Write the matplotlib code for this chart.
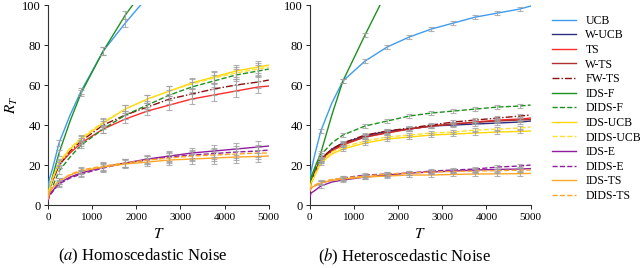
import matplotlib
matplotlib.use("Agg")
import matplotlib.pyplot as plt
from matplotlib.lines import Line2D

plt.rcParams['font.family'] = ['Liberation Serif', 'DejaVu Serif']
plt.rcParams['mathtext.fontset'] = 'stix'

# horizon grid at which curve values are read
T = [0, 30, 100, 250, 500, 750, 1250, 1750, 2250, 2750, 3250, 3750, 4250, 4750, 5000]
# error-bar positions (indices into T) and half-widths
err_idx = [3, 5, 6, 7, 8, 9, 10, 11, 12, 13]
err_a = [1.5, 1.5, 2.0, 2.0, 2.2, 2.5, 2.7, 2.8, 3.0, 3.0]
err_b = [1.0, 1.0, 1.0, 1.0, 1.0, 1.0, 1.0, 1.0, 1.0, 1.0]

names = ['UCB', 'W-UCB', 'TS', 'W-TS', 'FW-TS', 'IDS-F', 'DIDS-F', 'IDS-UCB',
         'DIDS-UCB', 'IDS-E', 'DIDS-E', 'IDS-TS', 'DIDS-TS']
colors = ['#3d9cf0', '#2e2e80', '#ff2a2a', '#b03030', '#8b1010', '#1e901e', '#1e901e',
          '#ffd700', '#ffe030', '#8e1e9e', '#8e1e9e', '#ffa726', '#ffa726']
styles = ['-', '-', '-', '-', (0, (5, 1.5, 1, 1.5)), '-', '--', '-', '--', '-', '--', '-', '--']

# (a) Homoscedastic noise
a_UCB = [8, 13, 18, 31, 45, 57, 77, 91, 104, 115, 125, 134, 143, 151, 155]
a_TS = [3, 8, 12, 20, 26, 31, 38, 43, 47, 50, 53, 55, 57, 59, 59.5]
a_FW_TS = [3, 8, 12, 20, 27, 32, 40, 45, 49, 53, 55.5, 58, 60, 61.5, 62.5]
a_IDS_F = [4, 8, 14, 26, 42, 56, 77, 95, 110, 123, 135, 146, 156, 166, 170]
a_DIDS_F = [3, 6, 9, 17, 24, 30, 38, 45, 50, 55, 59, 62, 65, 67, 68]
a_IDS_UCB = [3, 8, 13, 21, 28, 33, 41, 48, 53, 57, 61, 64, 67, 69, 70]
a_DIDS_UCB = [3, 8, 13, 21.5, 28.5, 33.5, 41.5, 48, 53, 57, 60.5, 63.5, 66, 68, 69]
a_IDS_E = [2, 5, 7, 11, 14, 16, 19, 21, 23, 24.5, 26, 27, 28, 29, 29.5]
a_DIDS_E = [2, 4.5, 6.5, 10.5, 13.5, 15.5, 18.5, 21, 22.5, 24, 25, 25.7, 26.5, 27, 27.5]
a_IDS_TS = [3, 6.5, 8.5, 12, 15, 17, 19, 20.5, 21.5, 22.5, 23, 23.5, 24, 24.3, 24.5]
a_DIDS_TS = [3, 6.5, 8.5, 12, 15.3, 17.5, 19.5, 21, 22.5, 23.5, 24.5, 25, 25.5, 26, 26]

# (b) Heteroscedastic noise
b_UCB = [10, 17, 24, 37, 51, 62, 72, 79, 84, 88, 91, 94, 96, 98, 99.5]
b_W_UCB = [8, 12, 16, 23, 28, 31, 34.5, 37, 38, 39.5, 40, 40.5, 41, 41.5, 42]
b_TS = [8, 11, 15, 22, 27, 30, 34, 36, 38, 39.5, 40.5, 41.5, 42.5, 43, 43.5]
b_W_TS = [8, 11, 15, 22.5, 27.5, 30.5, 34, 36.3, 38, 39.5, 40.5, 41.3, 42, 42.5, 42.8]
b_FW_TS = [8, 12, 16, 23, 28, 31, 35, 37, 38.5, 40, 41.5, 42.5, 43.5, 44.5, 45]
b_IDS_F = [10, 14, 18, 26, 45, 62, 85, 107, 128, 148, 168, 188, 208, 228, 238]
b_DIDS_F = [10, 13, 17, 25, 31, 35, 39.5, 42, 44.5, 46, 47, 48, 49, 49.5, 50]
b_IDS_UCB = [8, 11, 14, 21, 25.5, 28, 31, 33, 34, 35, 35.5, 36, 36.5, 36.8, 37]
b_DIDS_UCB = [8, 11, 14.5, 22, 26.5, 29, 32, 34, 35, 36, 36.5, 37.5, 38, 38.5, 39]
b_IDS_E = [4, 6, 7, 9.5, 11.5, 12.5, 14, 15, 16, 16.5, 17, 17.5, 17.8, 18, 18.2]
b_DIDS_E = [7, 8.5, 9.5, 11, 12.5, 13.5, 15, 15.5, 16, 17, 17.5, 18, 19, 19.5, 20]
b_IDS_TS = [7, 8.5, 9.5, 11, 12.3, 13, 14, 14.5, 15, 15, 15.3, 15.5, 15.6, 15.7, 15.8]
b_DIDS_TS = [7, 8.5, 9.8, 11.5, 12.8, 13.5, 14.5, 15.5, 16, 16.5, 16.8, 17, 17.2, 17.4, 17.5]

panel_a = {'UCB': a_UCB, 'TS': a_TS, 'FW-TS': a_FW_TS, 'IDS-F': a_IDS_F,
           'DIDS-F': a_DIDS_F, 'IDS-UCB': a_IDS_UCB, 'DIDS-UCB': a_DIDS_UCB,
           'IDS-E': a_IDS_E, 'DIDS-E': a_DIDS_E, 'IDS-TS': a_IDS_TS, 'DIDS-TS': a_DIDS_TS}
panel_b = {'UCB': b_UCB, 'W-UCB': b_W_UCB, 'TS': b_TS, 'W-TS': b_W_TS, 'FW-TS': b_FW_TS,
           'IDS-F': b_IDS_F, 'DIDS-F': b_DIDS_F, 'IDS-UCB': b_IDS_UCB,
           'DIDS-UCB': b_DIDS_UCB, 'IDS-E': b_IDS_E, 'DIDS-E': b_DIDS_E,
           'IDS-TS': b_IDS_TS, 'DIDS-TS': b_DIDS_TS}

fig = plt.figure(figsize=(6.4, 2.68), dpi=100)
ax_a = fig.add_axes([0.075, 0.235, 0.345, 0.746])
ax_b = fig.add_axes([0.484, 0.235, 0.345, 0.746])

def draw(ax, panel, err):
    for name, c, ls in zip(names, colors, styles):
        if name not in panel:
            continue
        y = panel[name]
        ax.plot(T, y, color=c, ls=ls, lw=1.0, zorder=3)
        ex = [T[i] for i in err_idx if y[i] <= 100]
        ey = [y[i] for i in err_idx if y[i] <= 100]
        ee = [e for i, e in zip(err_idx, err) if y[i] <= 100]
        ax.errorbar(ex, ey, yerr=ee, fmt='none', ecolor='#a0a0a0', elinewidth=0.8,
                    capsize=2.5, capthick=0.8, alpha=0.8, zorder=4)
    ax.set_xlim(0, 5000)
    ax.set_ylim(0, 100)
    ax.set_xticks([0, 1000, 2000, 3000, 4000, 5000])
    ax.set_yticks([0, 20, 40, 60, 80, 100])
    ax.spines['top'].set_visible(False)
    ax.spines['right'].set_visible(False)
    for s in ('left', 'bottom'):
        ax.spines[s].set_linewidth(0.8)
        ax.spines[s].set_color('#333333')
    ax.tick_params(axis='x', labelsize=8, length=3, width=0.6, pad=3)
    ax.tick_params(axis='y', labelsize=9, length=3, width=0.6, pad=2)
    ax.set_xlabel('$T$', fontsize=11, labelpad=3)

draw(ax_a, panel_a, err_a)
draw(ax_b, panel_b, err_b)
ax_a.set_ylabel('$R_T$', fontsize=11, labelpad=2)

fig.text(143 / 640, 0.042, '($a$) Homoscedastic Noise', ha='center', va='center', fontsize=12)
fig.text(405 / 640, 0.042, '($b$) Heteroscedastic Noise', ha='center', va='center', fontsize=12)

handles = [Line2D([0], [0], color=c, ls=ls, lw=1.0) for c, ls in zip(colors, styles)]
fig.legend(handles, names, loc='upper left', bbox_to_anchor=(0.862, 0.945),
           frameon=False, fontsize=8.5, handlelength=2.1, handletextpad=0.75,
           labelspacing=0.22, borderpad=0, borderaxespad=0)

fig.savefig('out.png', dpi=100)
